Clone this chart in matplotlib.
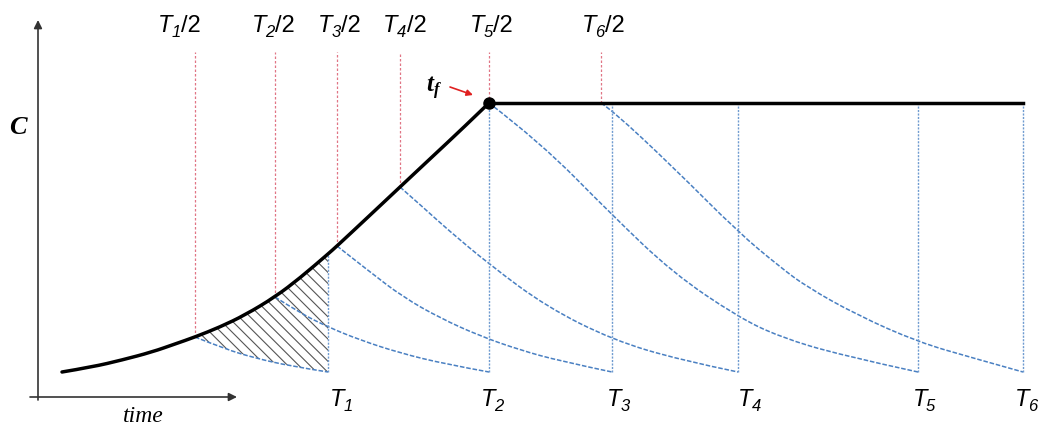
import matplotlib
import matplotlib.pyplot as plt
import numpy as np
from matplotlib.patches import PathPatch
from matplotlib.path import Path

matplotlib.use('Agg')

plt.rcParams['hatch.linewidth'] = 0.8

# dosing times and the half-time marks above the curve
T = [2.66, 4.27, 5.50, 6.76, 8.56, 9.61]
half_T = [1.33, 2.13, 2.75, 3.38, 4.27, 5.39]
T_subs = ['1', '2', '3', '4', '5', '6']

# rising concentration up to t_f, then flat
growth_t = [0.00, 0.30, 0.60, 0.90, 1.13, 1.33, 1.58, 1.83, 2.13, 2.38,
            2.66, 2.75, 3.05, 3.38, 3.70, 4.00, 4.27]
growth_c = [0.25, 0.30, 0.37, 0.45, 0.53, 0.60, 0.70, 0.82, 1.00, 1.19,
            1.43, 1.51, 1.79, 2.10, 2.40, 2.68, 2.94]
c_floor = 0.25

# decay after each half-time mark, ending at the matching T
decay_t = [
    [1.33, 1.63, 1.93, 2.28, 2.66],
    [2.13, 2.38, 2.66, 2.98, 3.38, 3.83, 4.27],
    [2.75, 3.08, 3.41, 3.78, 4.18, 4.58, 4.98, 5.50],
    [3.38, 3.63, 3.85, 4.28, 4.85, 5.51, 6.18, 6.76],
    [4.27, 4.78, 5.50, 6.11, 6.76, 7.18, 7.78, 8.56],
    [5.39, 5.50, 6.11, 6.76, 7.18, 7.45, 7.95, 8.56, 9.11, 9.61],
]
decay_c = [
    [0.60, 0.48, 0.39, 0.31, 0.25],
    [1.00, 0.84, 0.70, 0.57, 0.44, 0.33, 0.25],
    [1.51, 1.25, 1.00, 0.79, 0.61, 0.47, 0.36, 0.25],
    [2.10, 1.88, 1.68, 1.32, 0.90, 0.57, 0.37, 0.25],
    [2.94, 2.55, 1.82, 1.24, 0.80, 0.60, 0.42, 0.25],
    [2.94, 2.87, 2.30, 1.65, 1.30, 1.10, 0.82, 0.55, 0.39, 0.25],
]

# label nudges in points (left edge of each label relative to its line)
top_dx = [-27, -17, -14, -12, -14, -14]
bottom_dx = [1, -6, -4, 0, -4, -6]


def conc_at(t):
    # value on the black curve (knots or the plateau)
    return np.interp(t, growth_t, growth_c)


def smooth_path(ts, cs):
    # quadratic bezier through the midpoints of the given points
    pts = list(zip(ts, cs))
    verts = [pts[0]]
    codes = [Path.MOVETO]
    if len(pts) == 2:
        return Path(pts, [Path.MOVETO, Path.LINETO])
    for i in range(1, len(pts) - 1):
        if i < len(pts) - 2:
            end = ((pts[i][0] + pts[i + 1][0]) / 2, (pts[i][1] + pts[i + 1][1]) / 2)
        else:
            end = pts[-1]
        verts += [pts[i], end]
        codes += [Path.CURVE3, Path.CURVE3]
    return Path(verts, codes)


def t_label(x, y, sub, tail, dx, size=17, sub_size=12):
    base = ax.annotate('T', xy=(x, y), xytext=(dx, 0), textcoords='offset points',
                       fontsize=size, style='italic', family='Liberation Sans',
                       ha='left', va='baseline')
    s = ax.annotate(sub, xy=(1, 0), xycoords=base, xytext=(-0.5, 0),
                    textcoords='offset points', fontsize=sub_size, style='italic',
                    family='Liberation Sans', ha='left', va='baseline')
    if tail:
        ax.annotate(tail, xy=(1, 0), xycoords=(s, base), xytext=(0.3, 0),
                    textcoords='offset points', fontsize=size,
                    family='Liberation Sans', ha='left', va='bottom')


fig = plt.figure(figsize=(10.38, 4.28), dpi=100)
ax = fig.add_axes([0, 0, 1, 1])
ax.set_xlim(-0.62, 9.76)
ax.set_ylim(-0.31, 3.97)
ax.axis('off')

blue = '#4a80c2'
red = '#e07585'

# hatched area between curve and first decay
i0 = growth_t.index(half_T[0])
i1 = growth_t.index(T[0])
upper = smooth_path(growth_t[i0:i1 + 1], growth_c[i0:i1 + 1])
lower = smooth_path(decay_t[0][::-1], decay_c[0][::-1])
lower_codes = list(lower.codes)
lower_codes[0] = Path.LINETO
hatch_path = Path(np.vstack([upper.vertices, lower.vertices, upper.vertices[:1]]),
                  list(upper.codes) + lower_codes + [Path.CLOSEPOLY])
ax.add_patch(PathPatch(hatch_path, facecolor='none', edgecolor='#555555',
                       lw=0, hatch='\\\\\\', zorder=1))

# red marks at the half times
for h in half_T:
    ax.plot([h, h], [conc_at(h), 3.45], color=red, lw=0.9,
            linestyle=(0, (2, 1.6)), zorder=2)

# blue decays and verticals
for dt, dc in zip(decay_t, decay_c):
    ax.add_patch(PathPatch(smooth_path(dt, dc), fill=False, edgecolor=blue,
                           lw=1.1, linestyle=(0, (3, 1.2)), zorder=2))
for t in T:
    ax.plot([t, t], [c_floor, conc_at(t)], color='#6f9bd0', lw=1.0,
            linestyle=(0, (1.5, 1)), zorder=2)

# main curve with plateau
ax.add_patch(PathPatch(smooth_path(growth_t, growth_c), fill=False,
                       edgecolor='black', lw=2.5, capstyle='round', zorder=4))
ax.plot([growth_t[-1], T[-1]], [growth_c[-1], growth_c[-1]], color='black',
        lw=2.5, zorder=4)
ax.plot([growth_t[-1]], [growth_c[-1]], 'o', color='black', ms=8, zorder=5)

# axes arrows
arrow = dict(arrowstyle='-|>', lw=1.2, color='#333333', mutation_scale=12,
             shrinkA=0, shrinkB=0)
ax.annotate('', xy=(-0.24, 3.77), xytext=(-0.24, -0.03), arrowprops=arrow)
ax.annotate('', xy=(1.75, 0.0), xytext=(-0.32, 0.0), arrowprops=arrow)

ax.text(-0.445, 2.695, 'C', fontsize=19, family='Liberation Serif',
        style='italic', weight='bold', ha='center', va='center')
ax.text(0.81, -0.19, 'time', fontsize=17, family='Liberation Serif',
        style='italic', ha='center', va='center')

for h, sub, dx in zip(half_T, T_subs, top_dx):
    t_label(h, 3.65, sub, '/2', dx)
for t, sub, dx in zip(T, T_subs, bottom_dx):
    t_label(t, -0.09, sub, '', dx)

# t_f label with red pointer
tf = ax.text(3.64, 3.06, 't', fontsize=18, family='Liberation Serif',
             style='italic', weight='bold', ha='left', va='baseline')
ax.annotate('f', xy=(1, 0), xycoords=tf, xytext=(0.8, 1.5),
            textcoords='offset points', fontsize=12, family='Liberation Serif',
            style='italic', weight='bold', ha='left', va='baseline')
ax.annotate('', xy=(4.11, 3.02), xytext=(3.88, 3.10),
            arrowprops=dict(arrowstyle='-|>', lw=1.2, color='#e02020',
                            mutation_scale=9, shrinkA=0, shrinkB=0))

fig.savefig('out.png', dpi=100)
